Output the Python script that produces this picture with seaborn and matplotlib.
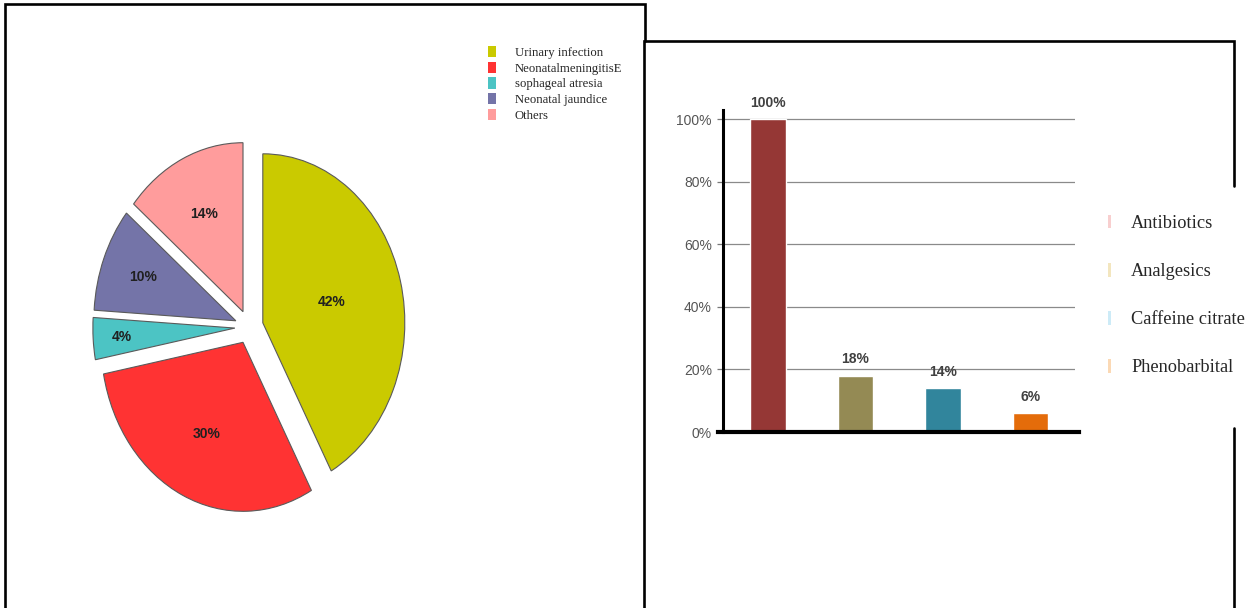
import matplotlib
matplotlib.use("Agg")
import matplotlib.pyplot as plt
import seaborn as sns
import numpy as np
import pandas as pd
from matplotlib.patches import Patch
from matplotlib.lines import Line2D

# ---------------- data ----------------
pie_labels = ["Urinary infection", "NeonatalmeningitisE", "sophageal atresia",
              "Neonatal jaundice", "Others"]
pie_values = [42, 30, 4, 10, 14]
pie_colors = ["#CACA00", "#FF3333", "#4CC4C4", "#7474A8", "#FF9C9C"]

drug_names = ["Antibiotics", "Analgesics", "Caffeine citrate", "Phenobarbital"]
drug_values = [100, 18, 14, 6]
bar_colors = ["#953735", "#948A54", "#31859C", "#E46C0A"]
legend_colors = ["#F8CFCF", "#F3E6BF", "#CDEBF7", "#FBD9B5"]
y_ticks = [0, 20, 40, 60, 80, 100]

# ---------------- style ----------------
sns.set_style("white")
plt.rcParams["font.family"] = ["Liberation Sans", "DejaVu Sans"]
serif = ["Liberation Serif", "DejaVu Serif"]
narrow = ["Liberation Sans Narrow", "Liberation Sans", "DejaVu Sans"]

W, H = 1249, 608
fig = plt.figure(figsize=(W / 100, H / 100), dpi=100)
fig.patch.set_facecolor("white")


def fx(x):
    return x / W


def fy(y):
    return 1 - y / H


# ---------------- panel borders ----------------
border_kw = dict(color="black", linewidth=1.9, transform=fig.transFigure,
                 solid_joinstyle="miter")
fig.add_artist(Line2D([fx(645), fx(645), fx(5), fx(5)],
                      [fy(41), fy(4), fy(4), fy(620)], **border_kw))
fig.add_artist(Line2D([fx(1234), fx(1234), fx(644), fx(644)],
                      [fy(186), fy(41), fy(41), fy(620)], **border_kw))
fig.add_artist(Line2D([fx(1234), fx(1234)], [fy(428), fy(620)], **border_kw))

# ---------------- pie ----------------
ax1 = fig.add_axes([0.0516, 0.1008, 0.2956, 0.7227])
wedges, _ = ax1.pie(pie_values, colors=pie_colors, startangle=90,
                    counterclock=False, explode=[0.1] * len(pie_values),
                    wedgeprops=dict(edgecolor="#5a5a5a", linewidth=0.8))
ax1.set_aspect("auto")
ax1.set_xlim(-1.3, 1.3)
ax1.set_ylim(-1.3, 1.3)
ax1.axis("off")

label_r = [0.5, 0.6, 0.8, 0.7, 0.64]
total = sum(pie_values)
for w, v, r in zip(wedges, pie_values, label_r):
    mid = np.deg2rad((w.theta1 + w.theta2) / 2)
    cx, cy = w.center
    ax1.text(cx + r * np.cos(mid), cy + r * np.sin(mid),
             f"{round(100 * v / total)}%", ha="center", va="center",
             fontsize=10, fontweight="bold", color="#202020")

fig.legend(handles=[Patch(facecolor=c, edgecolor="none") for c in pie_colors],
           labels=pie_labels, loc="upper left",
           bbox_to_anchor=(fx(488), fy(46)), frameon=False, borderpad=0,
           borderaxespad=0, prop=dict(family=serif, size=9.2),
           handlelength=0.65, handleheight=1.0, handletextpad=1.45,
           labelspacing=0.2)

# ---------------- bar chart ----------------
ax2 = fig.add_axes([fx(723), (H - 432) / H, (1075 - 723) / W, 322 / H])
df = pd.DataFrame({"drug": drug_names, "value": drug_values})
sns.barplot(data=df, x="drug", y="value", hue="drug", palette=bar_colors,
            saturation=1, width=0.41, legend=False, dodge=False, ax=ax2)
ax2.set_ylim(0, 103)
ax2.set_xlim(-0.514, 3.509)
ax2.set_yticks(y_ticks)
ax2.set_yticklabels([f"{v}%" for v in y_ticks], family=narrow)
ax2.set_xticks([])
ax2.set_xlabel("")
ax2.set_ylabel("")
ax2.yaxis.grid(True, color="#8a8a8a", linewidth=0.9)
ax2.set_axisbelow(True)
for s in ["top", "right"]:
    ax2.spines[s].set_visible(False)
ax2.spines["left"].set_linewidth(2.2)
ax2.spines["left"].set_color("black")
ax2.spines["bottom"].set_linewidth(3)
ax2.spines["bottom"].set_color("black")
ax2.spines["bottom"].set_bounds(-0.57, 3.55)
ax2.tick_params(axis="y", left=True, length=4.5, width=0.9, color="#777777",
                pad=3.5, labelsize=10, labelcolor="#555555")

for cont, v in zip(ax2.containers, drug_values):
    ax2.bar_label(cont, labels=[f"{v}%"], padding=7, fontsize=10,
                  fontweight="bold", color="#404040", family=narrow)

fig.legend(handles=[Patch(facecolor=c, edgecolor="none") for c in legend_colors],
           labels=drug_names, loc="upper left",
           bbox_to_anchor=(fx(1108), fy(215)), frameon=False, borderpad=0,
           borderaxespad=0, prop=dict(family=serif, size=13.2),
           handlelength=0.16, handleheight=0.75, handletextpad=1.1,
           labelspacing=1.69)

fig.savefig("out.png", dpi=100, facecolor="white")
